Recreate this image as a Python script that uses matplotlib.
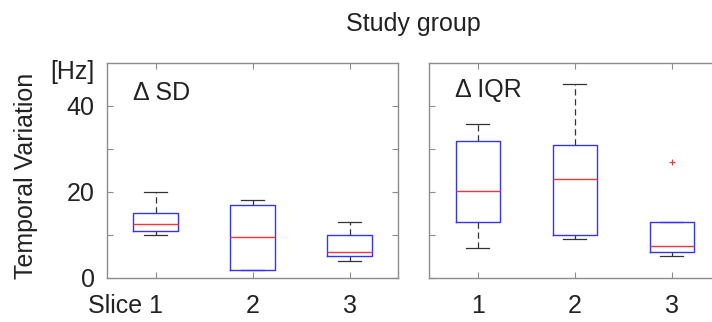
import matplotlib.pyplot as plt
from matplotlib.transforms import ScaledTranslation

plt.rcParams['font.family'] = ['Liberation Sans', 'DejaVu Sans']

slices = ['Slice 1', '2', '3']
panels = ['\u0394 SD', '\u0394 IQR']

# box stats, Hz
sd_whislo = [9.9, 1.9, 4.0]
sd_q1 = [10.9, 1.9, 5.0]
sd_med = [12.5, 9.5, 6.0]
sd_q3 = [15.0, 16.9, 9.9]
sd_whishi = [20.0, 18.0, 13.0]
sd_fliers = [[], [], []]

iqr_whislo = [7.0, 8.9, 5.0]
iqr_q1 = [13.0, 9.9, 6.0]
iqr_med = [20.3, 23.0, 7.4]
iqr_q3 = [31.9, 30.8, 13.0]
iqr_whishi = [35.9, 45.0, 13.0]
iqr_fliers = [[], [], [26.9]]


def make_stats(lo, q1, med, q3, hi, fl):
    out = []
    for i in range(len(med)):
        out.append(dict(whislo=lo[i], q1=q1[i], med=med[i], q3=q3[i],
                        whishi=hi[i], fliers=fl[i]))
    return out


fig = plt.figure(figsize=(7.12, 3.22), dpi=100)
ax1 = fig.add_axes([0.1503, 0.1376, 0.4087, 0.6668])
ax2 = fig.add_axes([0.603, 0.1376, 0.4087, 0.6668])

stats = [make_stats(sd_whislo, sd_q1, sd_med, sd_q3, sd_whishi, sd_fliers),
         make_stats(iqr_whislo, iqr_q1, iqr_med, iqr_q3, iqr_whishi, iqr_fliers)]
label_y = [0.858, 0.872]

frame = '#8c8c8c'
for ax, st, name, ly in zip([ax1, ax2], stats, panels, label_y):
    ax.bxp(st, positions=[1, 2, 3], widths=0.46, capwidths=0.24,
           boxprops=dict(color='#3333ff', lw=1.0, zorder=4),
           medianprops=dict(color='#ff3333', lw=1.0, zorder=5),
           whiskerprops=dict(color='#333333', lw=0.9, linestyle=(0, (5, 3)), zorder=2),
           capprops=dict(color='#333333', lw=0.9, zorder=2),
           flierprops=dict(marker='+', markeredgecolor='#ff3333', markersize=5, mew=0.8))
    ax.set_xlim(0.5, 3.5)
    ax.set_ylim(0, 50)
    ax.set_yticks([0, 10, 20, 30, 40])
    ax.set_xticks([1, 2, 3])
    ax.tick_params(direction='in', length=4, width=0.8, color=frame,
                   top=True, right=True, labelsize=18, labelcolor='#222222')
    ax.tick_params(axis='x', pad=11.5)
    ax.tick_params(axis='y', pad=9)
    for s in ax.spines.values():
        s.set_color(frame)
        s.set_linewidth(1.0)
    ax.text(0.088, ly, name, transform=ax.transAxes, fontsize=18,
            color='#222222', va='center')

ax1.set_yticklabels(['0', '', '20', '', '40'])
ax2.set_yticklabels([])
ax1.set_xticklabels(slices)
ax2.set_xticklabels(['1', '2', '3'])
lab = ax1.get_xticklabels()[0]
lab.set_horizontalalignment('right')
lab.set_transform(lab.get_transform() + ScaledTranslation(7 / 100, 0, fig.dpi_scale_trans))

fig.text(0.037, 0.455, 'Temporal Variation', rotation=90, fontsize=18,
         color='#222222', ha='center', va='center')
fig.text(0.102, 0.777, '[Hz]', fontsize=18, color='#222222', ha='center', va='center')
fig.text(0.58, 0.925, 'Study group', fontsize=18, color='#222222', ha='center', va='center')

fig.savefig('out.png', dpi=100)
